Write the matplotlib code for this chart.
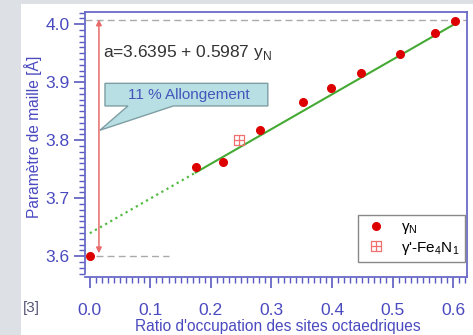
import matplotlib.pyplot as plt
import numpy as np
from matplotlib.path import Path
from matplotlib.patches import Polygon, Rectangle
from matplotlib.ticker import MultipleLocator

# data
y_ratio = [0.0, 0.175, 0.22, 0.281, 0.352, 0.398, 0.448, 0.512, 0.570, 0.603]
a_param = [3.600, 3.753, 3.762, 3.817, 3.866, 3.890, 3.916, 3.948, 3.984, 4.005]
fe4n_x = [0.246]
fe4n_y = [3.800]
fit_a0 = 3.6395
fit_slope = 0.5987

blue = '#4a4ac0'
plt.rcParams['font.family'] = ['Liberation Sans', 'DejaVu Sans']
plt.rcParams['mathtext.fontset'] = 'custom'
plt.rcParams['mathtext.rm'] = 'Liberation Sans'

fig = plt.figure(figsize=(4.73, 3.35), dpi=100)
fig.patch.set_facecolor('#dde1e6')
fig.patches.append(Rectangle((21/473, 0), 1, 1 - 4/335, transform=fig.transFigure,
                             facecolor='white', edgecolor='none', zorder=-10))
ax = fig.add_axes([85/473, 1 - 277/335, 382/473, 265/335])
ax.set_xlim(-0.008, 0.623)
ax.set_ylim(3.564, 4.021)

# fit line: dotted extrapolation + solid over the data
xd = np.array([0.0, 0.175])
ax.plot(xd, fit_a0 + fit_slope*xd, ':', color='#55bb44', lw=1.6, zorder=2)
xs = np.array([0.175, 0.605])
ax.plot(xs, fit_a0 + fit_slope*xs, '-', color='#44aa33', lw=1.5, zorder=2)

# reference dashed lines
ax.plot([-0.008, 0.623], [4.007, 4.007], '--', color='#aaaaaa', lw=1, dashes=(5, 3), zorder=1)
ax.plot([0.01, 0.13], [3.6, 3.6], '--', color='#aaaaaa', lw=1, dashes=(5, 3), zorder=1)

# red double arrow
ax.annotate('', xy=(0.015, 4.008), xytext=(0.015, 3.605),
            arrowprops=dict(arrowstyle='<|-|>', color='#e86a6a', lw=1.1,
                            mutation_scale=8, shrinkA=0, shrinkB=0))

# gridded square marker
grid_sq = Path([(-1, -1), (1, -1), (1, 1), (-1, 1), (-1, -1),
                (0, -1), (0, 1), (-1, 0), (1, 0)],
               [Path.MOVETO, Path.LINETO, Path.LINETO, Path.LINETO, Path.CLOSEPOLY,
                Path.MOVETO, Path.LINETO, Path.MOVETO, Path.LINETO])

ax.plot(y_ratio, a_param, 'o', color='#dd0000', ms=5.5, zorder=3, label='γ$_\\mathrm{N}$')
ax.plot(fe4n_x, fe4n_y, linestyle='none', marker=grid_sq, ms=7, mfc='none',
        mec='#f07070', mew=0.9, zorder=3, label="γ'-Fe$_\\mathrm{4}$N$_\\mathrm{1}$")

ax.text(0.0215, 3.952, 'a=3.6395 + 0.5987 y$_\\mathrm{N}$', color='#333333',
        fontsize=12.5, va='center')

# callout box
x0, x1, yt, yb = 0.025, 0.294, 3.898, 3.859
callout = [(x0, yt), (x1, yt), (x1, yb), (0.138, yb), (0.0165, 3.817),
           (0.063, yb), (x0, yb)]
ax.add_patch(Polygon(callout, closed=True, facecolor='#b8e0e4',
                     edgecolor='#7f9ea3', lw=1, zorder=2))
ax.text((x0 + x1)/2 + 0.004, (yt + yb)/2, '11 % Allongement', color='#4455bb',
        fontsize=11, ha='center', va='center', zorder=3)

# axes styling
for s in ax.spines.values():
    s.set_color('#6a6ac8')
    s.set_linewidth(1.3)
ax.spines['left'].set_bounds(3.571, 4.021)
ax.xaxis.set_major_locator(MultipleLocator(0.1))
ax.xaxis.set_minor_locator(MultipleLocator(0.01))
ax.yaxis.set_major_locator(MultipleLocator(0.1))
ax.yaxis.set_minor_locator(MultipleLocator(0.01))
ax.tick_params(which='both', direction='out', color='#5a5ac0', labelcolor=blue,
               top=False, right=False)
ax.tick_params(which='major', length=8, width=1.2, labelsize=12.5)
ax.tick_params(which='minor', length=4.5, width=1)
ax.tick_params(axis='x', which='major', pad=11)
ax.tick_params(axis='y', which='major', pad=3)
ax.set_xticks([0.0, 0.1, 0.2, 0.3, 0.4, 0.5, 0.6])
ax.set_xticklabels(['0.0', '0.1', '0.2', '0.3', '0.4', '0.5', '0.6'])

fig.text(33/473, 1 - 137/335, 'Paramètre de maille [Å]', rotation=90, color=blue,
         fontsize=11.2, ha='center', va='center')
fig.text(278/473, 1 - 326/335, "Ratio d'occupation des sites octaedriques", color=blue,
         fontsize=11.2, ha='center', va='center')
fig.text(31/473, 1 - 308/335, '[3]', color='#555577', fontsize=11, ha='center', va='center')

leg = ax.legend(loc='lower right', bbox_to_anchor=(0.995, 0.057), borderaxespad=0,
                fontsize=11, frameon=True, fancybox=False, edgecolor='#888888',
                framealpha=1, borderpad=0.35, handletextpad=0.8, labelspacing=0.2,
                handlelength=1.7)
leg.get_frame().set_linewidth(1)
leg.set_zorder(5)

fig.savefig('out.png', dpi=100)
